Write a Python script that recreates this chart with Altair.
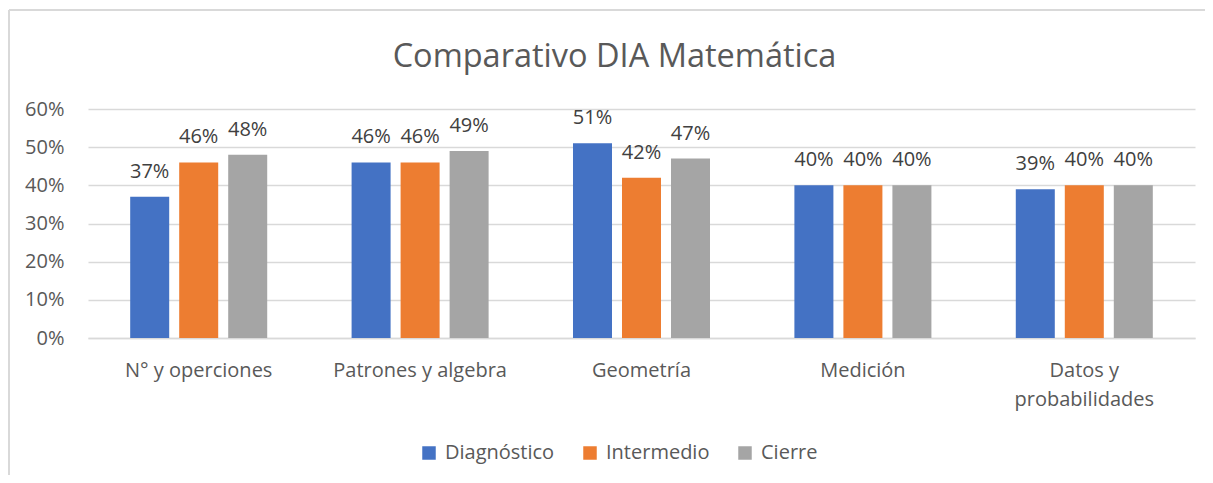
import altair as alt
import pandas as pd

categories = ["N° y operciones", "Patrones y algebra", "Geometría", "Medición", "Datos y\nprobabilidades"]
series = ["Diagnóstico", "Intermedio", "Cierre"]
diagnostico = [0.37, 0.46, 0.51, 0.40, 0.39]
intermedio = [0.46, 0.46, 0.42, 0.40, 0.40]
cierre = [0.48, 0.49, 0.47, 0.40, 0.40]
colors = ["#4472C4", "#ED7D31", "#A5A5A5"]
y_ticks = [0, 0.1, 0.2, 0.3, 0.4, 0.5, 0.6]

rows = []
for s, vals in zip(series, [diagnostico, intermedio, cierre]):
    for c, v in zip(categories, vals):
        rows.append({"cat": c, "serie": s, "val": v})
df = pd.DataFrame(rows)

FONT = "Open Sans"
GREY = "#595959"
FS = 20

x = alt.X("cat:N", sort=categories, title=None,
          scale=alt.Scale(paddingInner=0, paddingOuter=0),
          axis=alt.Axis(labelAngle=0, labelFontSize=FS, labelColor=GREY, labelFont=FONT,
                        labelPadding=22, labelLineHeight=29, ticks=False,
                        domainColor="#D9D9D9", domainWidth=1.5, labelOverlap=False,
                        labelBaseline="top",
                        labelExpr="split(datum.label, '\\n')"))
xo = alt.XOffset("serie:N", sort=series,
                 scale=alt.Scale(paddingInner=0.204, paddingOuter=0.861))
y = alt.Y("val:Q", title=None,
          scale=alt.Scale(domain=[0, 0.6], nice=False),
          axis=alt.Axis(values=y_ticks, format=".0%", labelFontSize=FS, labelColor=GREY,
                        labelFont=FONT, labelPadding=24, ticks=False, domain=False,
                        labelOverlap=False,
                        gridColor="#D9D9D9", gridWidth=1.5))
color = alt.Color("serie:N", sort=series,
                  scale=alt.Scale(domain=series, range=colors),
                  legend=alt.Legend(title=None, orient="none", direction="horizontal",
                                    legendX=331, legendY=334,
                                    symbolType="square", symbolSize=182,
                                    symbolStrokeWidth=0,
                                    labelFontSize=FS, labelColor=GREY, labelFont=FONT,
                                    columnPadding=25, labelOffset=6))

base = alt.Chart(df)
bars = base.mark_bar().encode(x=x, xOffset=xo, y=y, color=color)
labels = base.mark_text(fontSize=FS, font=FONT, color="#404040",
                        baseline="alphabetic", dy=-19).encode(
    x=x, xOffset=xo, y=y,
    text=alt.Text("val:Q", format=".0%"))

border_top = alt.Chart(df).mark_rule(color="#D9D9D9", strokeWidth=1.5, clip=False).encode(
    x=alt.value(-79), x2=alt.value(1130), y=alt.value(-99))
border_left = alt.Chart(df).mark_rule(color="#D9D9D9", strokeWidth=1.5, clip=False).encode(
    x=alt.value(-79), y=alt.value(-99), y2=alt.value(400))

chart = alt.layer(border_top, border_left, bars, labels).properties(
    width=1107, height=229,
    padding={"left": 80, "top": 101, "right": 10, "bottom": 137},
    autosize=alt.AutoSizeParams(type="none"),
    title=alt.TitleParams("Comparativo DIA Matemática", fontSize=32.5, font=FONT,
                          color=GREY, fontWeight="normal", anchor="middle", offset=-90,
                          dx=-27, baseline="alphabetic", frame="group"),
).configure_view(stroke=None)

chart.save("out.html", embed_options={"renderer": "svg", "actions": False})
